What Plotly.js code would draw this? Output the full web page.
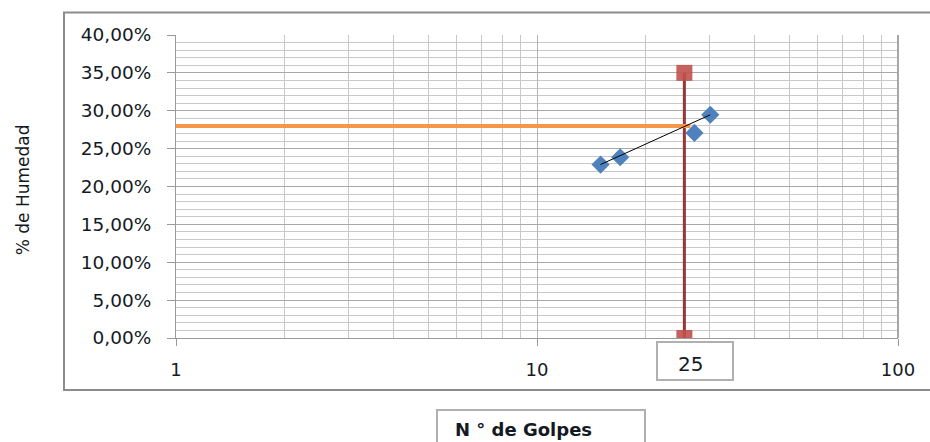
<!DOCTYPE html>
<html><head><meta charset="utf-8">
<script src="https://cdn.plot.ly/plotly-3.0.1.min.js"></script>
<style>html,body{margin:0;padding:0;background:#fff;}#chart{width:930px;height:442px;}</style>
</head><body><div id="chart"></div>
<script>
// Data
const golpes = [15, 17, 27.3, 30.2];
const humedad = [0.229, 0.2386, 0.2707, 0.2947];
const refX = [25.6, 25.6];
const refY = [0.35, 0];
const lineX = [1, 26.6];
const lineY = [0.28, 0.28];
const trendX = [15, 30.2];
const trendY = [0.229, 0.2947];
const xTickLabel = "25";
const xTitle = "N ° de Golpes";
const yTitle = "% de Humedad";

const font = "DejaVu Sans, Verdana, sans-serif";
const tcol = '#141a24';
const traces = [
  {x: refX, y: refY, mode: 'lines+markers', type: 'scatter',
   line: {color: '#953735', width: 3},
   marker: {symbol: 'square', size: 16, color: 'rgba(192,80,77,0.9)'}},
  {x: lineX, y: lineY, mode: 'lines', type: 'scatter',
   line: {color: '#f79646', width: 4}},
  {x: golpes, y: humedad, mode: 'markers', type: 'scatter',
   marker: {symbol: 'diamond', size: 14, color: '#4f81bd'}},
  {x: trendX, y: trendY, mode: 'lines', type: 'scatter',
   line: {color: '#000', width: 1}}
];
const L = 176, R = 898, T = 34.5, B = 338;
const pw = R - L, ph = B - T;
const px = v => (v - L) / pw;
const py = v => (B - v) / ph;
const layout = {
  width: 930, height: 442,
  margin: {l: L, r: 930 - R, t: T, b: 442 - B, pad: 0},
  paper_bgcolor: '#fff', plot_bgcolor: '#fff',
  showlegend: false,
  separators: ',.',
  font: {family: font, size: 16, color: tcol},
  xaxis: {
    type: 'log', range: [0, 2], dtick: 1,
    showgrid: true, gridcolor: '#b4b4b4', gridwidth: 1,
    minor: {dtick: 'D1', showgrid: true, gridcolor: '#c8c8c8', gridwidth: 1, ticks: ''},
    showline: true, linecolor: '#9a9a9a', linewidth: 1,
    ticks: 'outside', ticklen: 7, tickcolor: '#9a9a9a',
    ticklabelstandoff: 8,
    tickfont: {family: font, size: 18, color: tcol},
    zeroline: false, mirror: false
  },
  yaxis: {
    range: [0, 0.4], dtick: 0.05, tickformat: '.2%',
    showgrid: true, gridcolor: '#a8a8a8', gridwidth: 1,
    minor: {dtick: 0.01, showgrid: true, gridcolor: '#c8c8c8', gridwidth: 1, ticks: ''},
    showline: true, linecolor: '#9a9a9a', linewidth: 1,
    ticks: 'outside', ticklen: 8, tickcolor: '#9a9a9a',
    ticklabelstandoff: 12,
    tickfont: {family: font, size: 18.5, color: tcol},
    zeroline: false
  },
  shapes: [
    {type: 'rect', xref: 'paper', yref: 'paper', x0: px(64), x1: px(940), y0: py(390), y1: py(12),
     line: {color: '#8c8c8c', width: 2}, fillcolor: 'rgba(0,0,0,0)', layer: 'below'},
    {type: 'line', xref: 'paper', yref: 'paper', x0: px(R), x1: px(R), y0: 0, y1: 1,
     line: {color: '#a8a8a8', width: 2}},
    {type: 'rect', xref: 'paper', yref: 'paper', x0: px(657), x1: px(733), y0: py(380), y1: py(342),
     line: {color: '#b0b0b0', width: 2}, fillcolor: '#fff'},
    {type: 'rect', xref: 'paper', yref: 'paper', x0: px(437), x1: px(645), y0: py(452), y1: py(410),
     line: {color: '#b0b0b0', width: 2}, fillcolor: '#fff'}
  ],
  annotations: [
    {text: xTickLabel, xref: 'paper', yref: 'paper', x: px(690), y: py(364), showarrow: false,
     font: {family: font, size: 20, color: tcol}, xanchor: 'center', yanchor: 'middle'},
    {text: '<b>' + xTitle + '</b>', xref: 'paper', yref: 'paper', x: px(523), y: py(430), showarrow: false,
     font: {family: font, size: 18, color: tcol}, xanchor: 'center', yanchor: 'middle'},
    {text: yTitle, xref: 'paper', yref: 'paper', x: px(23), y: py(190), showarrow: false, textangle: -90,
     font: {family: font, size: 17, color: tcol}, xanchor: 'center', yanchor: 'middle'}
  ]
};
Plotly.newPlot('chart', traces, layout, {displayModeBar: false, staticPlot: true});
</script></body></html>
